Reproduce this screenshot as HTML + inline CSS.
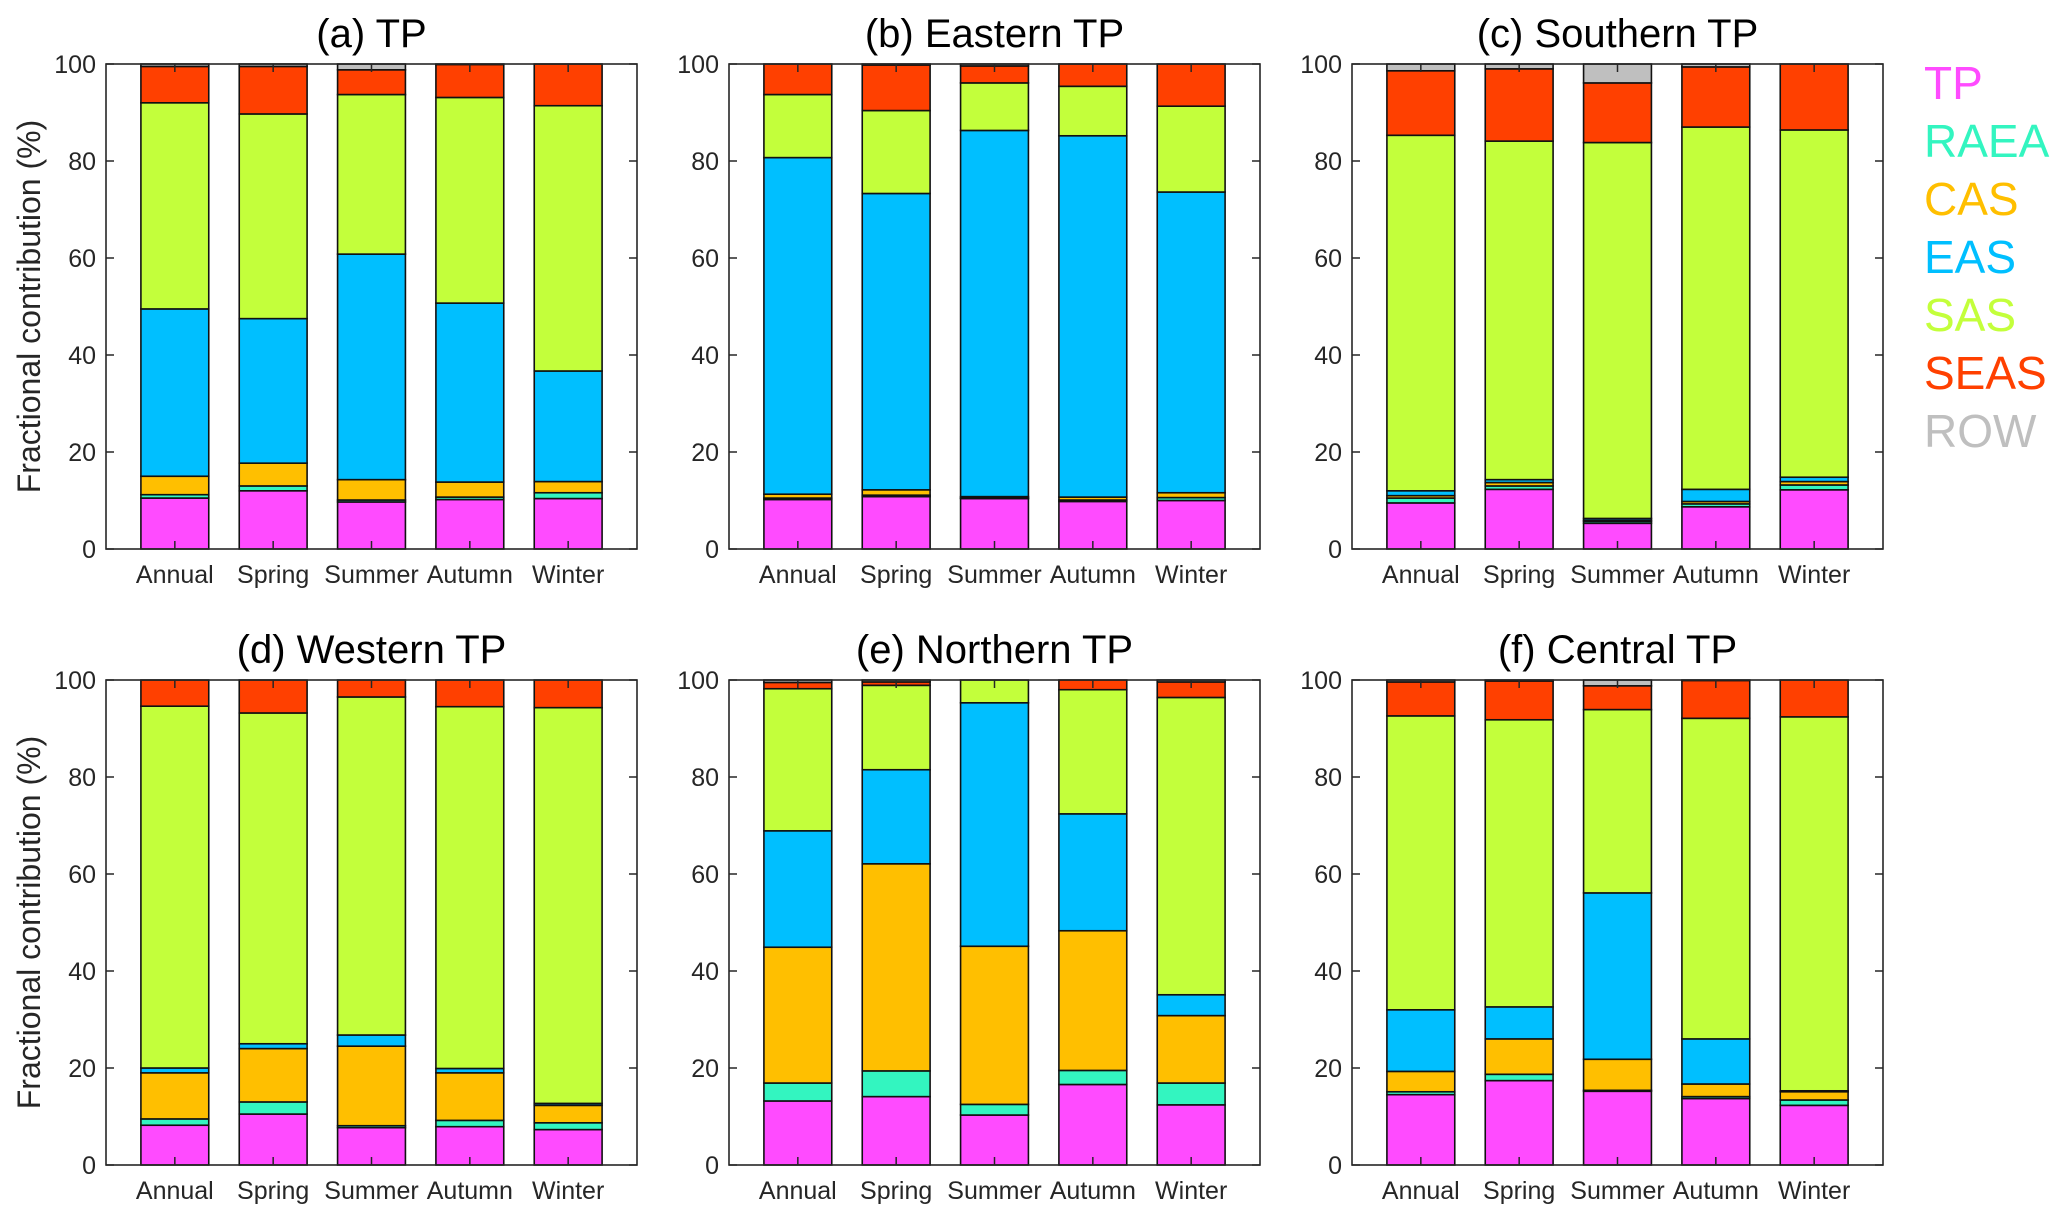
<!DOCTYPE html>
<html><head><meta charset="utf-8"><style>
html,body{margin:0;padding:0;background:#fff;}
svg{display:block;font-family:"Liberation Sans",Arial,sans-serif;}
</style></head><body>
<svg id="fig" width="2067" height="1223" viewBox="0 0 2067 1223" xmlns="http://www.w3.org/2000/svg"></svg>
<script>
const categories=["Annual","Spring","Summer","Autumn","Winter"];
const seriesNames=["TP","RAEA","CAS","EAS","SAS","SEAS","ROW"];
const seriesColors=["#ff4bff","#33f5c0","#ffbf00","#00bfff","#c3ff3b","#ff4000","#bfbfbf"];
const yTicks=[0,20,40,60,80,100];
const panelTitles=["(a) TP","(b) Eastern TP","(c) Southern TP","(d) Western TP","(e) Northern TP","(f) Central TP"];

const a_TP=[10.5,12,9.7,10.2,10.4];
const a_RAEA=[0.7,1,0.4,0.5,1.2];
const a_CAS=[3.8,4.7,4.2,3.1,2.3];
const a_EAS=[34.5,29.8,46.5,36.9,22.8];
const a_SAS=[42.5,42.2,32.9,42.4,54.7];
const a_SEAS=[7.5,9.8,5.1,6.8,8.6];
const a_ROW=[0.5,0.5,1.2,0.1,0];

const b_TP=[10.2,10.8,10.4,9.8,10];
const b_RAEA=[0.3,0.3,0.1,0.3,0.6];
const b_CAS=[0.8,1.1,0.3,0.6,1];
const b_EAS=[69.4,61.1,75.5,74.5,62];
const b_SAS=[13,17.1,9.8,10.2,17.7];
const b_SEAS=[6.3,9.4,3.5,4.6,8.7];
const b_ROW=[0,0.2,0.4,0,0];

const c_TP=[9.5,12.3,5.3,8.7,12.2];
const c_RAEA=[1,0.7,0.4,0.6,1];
const c_CAS=[0.5,0.7,0.2,0.5,0.7];
const c_EAS=[1,0.6,0.4,2.5,0.9];
const c_SAS=[73.3,69.8,77.5,74.7,71.6];
const c_SEAS=[13.3,14.9,12.3,12.4,13.6];
const c_ROW=[1.4,1,3.9,0.6,0];

const d_TP=[8.2,10.5,7.7,7.9,7.3];
const d_RAEA=[1.3,2.5,0.4,1.3,1.4];
const d_CAS=[9.5,11,16.4,9.8,3.6];
const d_EAS=[1,1,2.3,0.9,0.4];
const d_SAS=[74.6,68.2,69.7,74.6,81.6];
const d_SEAS=[5.4,6.8,3.5,5.5,5.7];
const d_ROW=[0,0,0,0,0];

const e_TP=[13.2,14.1,10.3,16.6,12.4];
const e_RAEA=[3.7,5.3,2.2,2.9,4.5];
const e_CAS=[28,42.7,32.6,28.8,13.9];
const e_EAS=[24,19.4,50.2,24.1,4.3];
const e_SAS=[29.3,17.4,4.7,25.6,61.3];
const e_SEAS=[1.3,0.7,0,2,3.2];
const e_ROW=[0.5,0.4,0,0,0.4];

const f_TP=[14.5,17.4,15.2,13.7,12.3];
const f_RAEA=[0.6,1.3,0.2,0.4,1.1];
const f_CAS=[4.2,7.3,6.4,2.6,1.7];
const f_EAS=[12.7,6.6,34.3,9.3,0.2];
const f_SAS=[60.6,59.2,37.8,66.1,77.1];
const f_SEAS=[7,8,4.9,7.8,7.6];
const f_ROW=[0.4,0.2,1.2,0.1,0];

const panelSeries=[
 [a_TP,a_RAEA,a_CAS,a_EAS,a_SAS,a_SEAS,a_ROW],
 [b_TP,b_RAEA,b_CAS,b_EAS,b_SAS,b_SEAS,b_ROW],
 [c_TP,c_RAEA,c_CAS,c_EAS,c_SAS,c_SEAS,c_ROW],
 [d_TP,d_RAEA,d_CAS,d_EAS,d_SAS,d_SEAS,d_ROW],
 [e_TP,e_RAEA,e_CAS,e_EAS,e_SAS,e_SEAS,e_ROW],
 [f_TP,f_RAEA,f_CAS,f_EAS,f_SAS,f_SEAS,f_ROW]
];

const NS="http://www.w3.org/2000/svg";
const svg=document.getElementById("fig");
function mk(tag,attrs,parent){const e=document.createElementNS(NS,tag);for(const k in attrs)e.setAttribute(k,attrs[k]);(parent||svg).appendChild(e);return e;}

const axW=531,axH=485;
const lefts=[106,729,1352];
const tops=[64,680];
const XMIN=0.3,XMAX=5.7,BW=0.69;

panelSeries.forEach((series,p)=>{
  const L=lefts[p%3],T=tops[Math.floor(p/3)];
  const g=mk("g",{});
  
  
  const xS=v=>L+(v-XMIN)/(XMAX-XMIN)*axW;
  const yS=v=>T+axH-(v/100)*axH;
  categories.forEach((cat,i)=>{
    let base=0;
    series.forEach((vals,s)=>{
      const v=vals[i];
      if(v<=0)return;
      const x0=xS(i+1-BW/2),x1=xS(i+1+BW/2);
      const r=mk("rect",{x:x0,y:yS(base+v),width:x1-x0,height:yS(base)-yS(base+v),fill:seriesColors[s],stroke:"#111","stroke-width":1.6},g);
      
      
      base+=v;
    });
  });
  yTicks.forEach(t=>{
    const y=yS(t);
    mk("line",{x1:L,x2:L+8,y1:y,y2:y,stroke:"#262626","stroke-width":1.5},g);
    mk("line",{x1:L+axW,x2:L+axW-8,y1:y,y2:y,stroke:"#262626","stroke-width":1.5},g);
    const tl=mk("text",{x:L-10,y:y+9,"text-anchor":"end","font-size":25,fill:"#262626"},g);
    tl.textContent=t;
    
    
  });
  categories.forEach((cat,i)=>{
    const x=xS(i+1);
    mk("line",{x1:x,x2:x,y1:T+axH,y2:T+axH-8,stroke:"#262626","stroke-width":1.5},g);
    mk("line",{x1:x,x2:x,y1:T,y2:T+8,stroke:"#262626","stroke-width":1.5},g);
    const xl=mk("text",{x:x,y:T+axH+34,"text-anchor":"middle","font-size":25,fill:"#262626"},g);
    xl.textContent=cat;
    
    
  });
  const box=mk("rect",{x:L,y:T,width:axW,height:axH,fill:"none",stroke:"#262626","stroke-width":1.6},g);
  
  
  const ti=mk("text",{x:L+axW/2,y:T-17,"text-anchor":"middle","font-size":40,fill:"#000"},g);
  ti.textContent=panelTitles[p];
  
  
  if(p%3===0){
    const cy=T+axH/2;
    const yt=mk("text",{x:0,y:0,transform:"translate(40,"+cy+") rotate(-90)","text-anchor":"middle","font-size":32,fill:"#262626"},g);
    yt.textContent="Fractional contribution (%)";
    
    
  }
});

seriesNames.forEach((n,s)=>{
  const t=mk("text",{x:1924,y:99+s*58,"font-size":46,fill:seriesColors[s]});
  t.textContent=n;
  
  
});
</script>
</body></html>
